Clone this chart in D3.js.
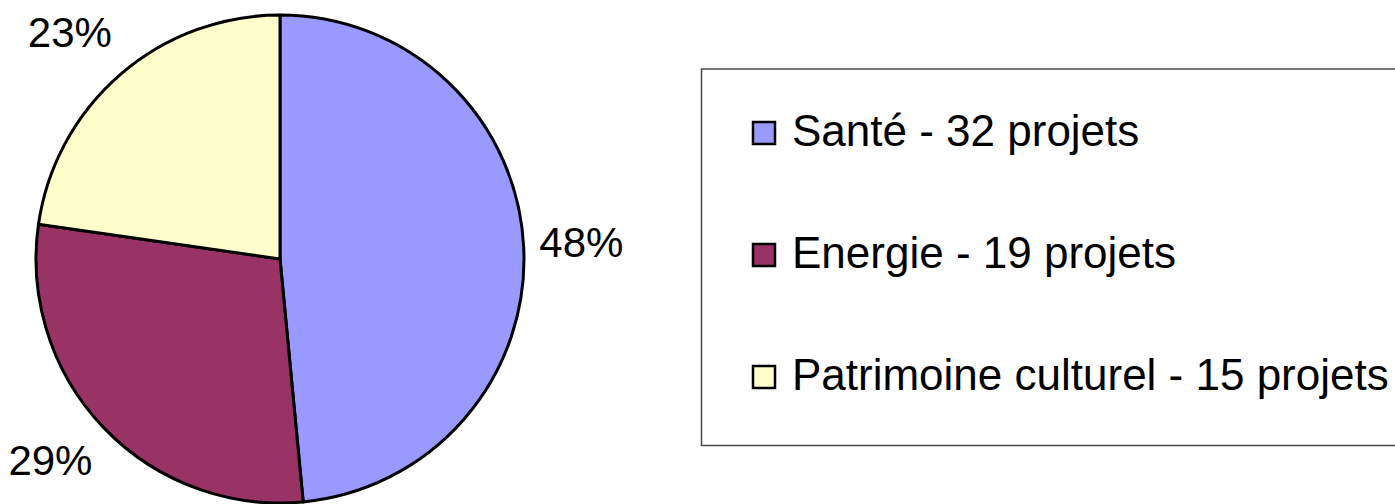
<!DOCTYPE html>
<html>
<head>
<meta charset="utf-8">
<script src="https://cdn.jsdelivr.net/npm/d3@7"></script>
<style>
  body { margin: 0; background: #fff; }
  svg { display: block; font-family: "Liberation Sans", Arial, sans-serif; }
</style>
</head>
<body>
<svg id="chart" width="1395" height="504"></svg>
<script>
// data
const categories = ['Santé', 'Energie', 'Patrimoine culturel'];
const projets = [32, 19, 15];
const colors = ['#9999FF', '#993366', '#FFFFCC'];

const width = 1395;
const height = 504;
const center = { x: 280, y: 259 };
const radius = 244;

const svg = d3.select('#chart');
const total = d3.sum(projets);
const data = categories.map((c, i) => ({ name: c, value: projets[i], color: colors[i] }));

const pie = d3.pie().sort(null).value(d => d.value);
const arcs = pie(data);
const arc = d3.arc().innerRadius(0).outerRadius(radius);
const labelArc = d3.arc().innerRadius(296).outerRadius(296);

const g = svg.append('g').attr('transform', `translate(${center.x},${center.y})`);

g.selectAll('path.slice')
    .data(arcs)
    .enter().append('path')
    .attr('class', 'slice')
    .attr('d', arc)
    .attr('fill', d => d.data.color)
    .attr('stroke', '#000')
    .attr('stroke-width', 3)
    .attr('stroke-linejoin', 'round');

// labels sit outside the slice, pushed sideways a bit like excel does
const labelPos = d => {
    const c = labelArc.centroid(d);
    const a = (d.startAngle + d.endAngle) / 2;
    return [c[0] + Math.sign(Math.sin(a)) * (5 + 15 * Math.abs(Math.cos(a))), c[1] - 3];
};

g.selectAll('text.pct')
    .data(arcs)
    .enter().append('text')
    .attr('class', 'pct')
    .attr('transform', d => `translate(${labelPos(d)})`)
    .attr('text-anchor', 'middle')
    .attr('dy', '0.36em')
    .attr('font-size', 42)
    .attr('fill', '#000')
    .text(d => Math.round(d.data.value / total * 100) + '%');

// legend
const legend = { x: 701.5, y: 69, w: 720, h: 376.5 };
svg.append('rect')
    .attr('x', legend.x)
    .attr('y', legend.y)
    .attr('width', legend.w)
    .attr('height', legend.h)
    .attr('fill', '#fff')
    .attr('stroke', '#4a4a4a')
    .attr('stroke-width', 1.5);

const rowY = d3.scalePoint()
    .domain(categories)
    .range([133, 377]);

const items = svg.selectAll('g.legend-item')
    .data(data)
    .enter().append('g')
    .attr('class', 'legend-item')
    .attr('transform', d => `translate(0,${rowY(d.name)})`);

items.append('rect')
    .attr('x', 753)
    .attr('y', -11)
    .attr('width', 22)
    .attr('height', 22)
    .attr('fill', d => d.color)
    .attr('stroke', '#000')
    .attr('stroke-width', 2.5);

items.append('text')
    .attr('x', 792)
    .attr('y', 13)
    .attr('font-size', 44)
    .attr('fill', '#000')
    .text(d => d.name + ' - ' + d.value + ' projets');
</script>
</body>
</html>
